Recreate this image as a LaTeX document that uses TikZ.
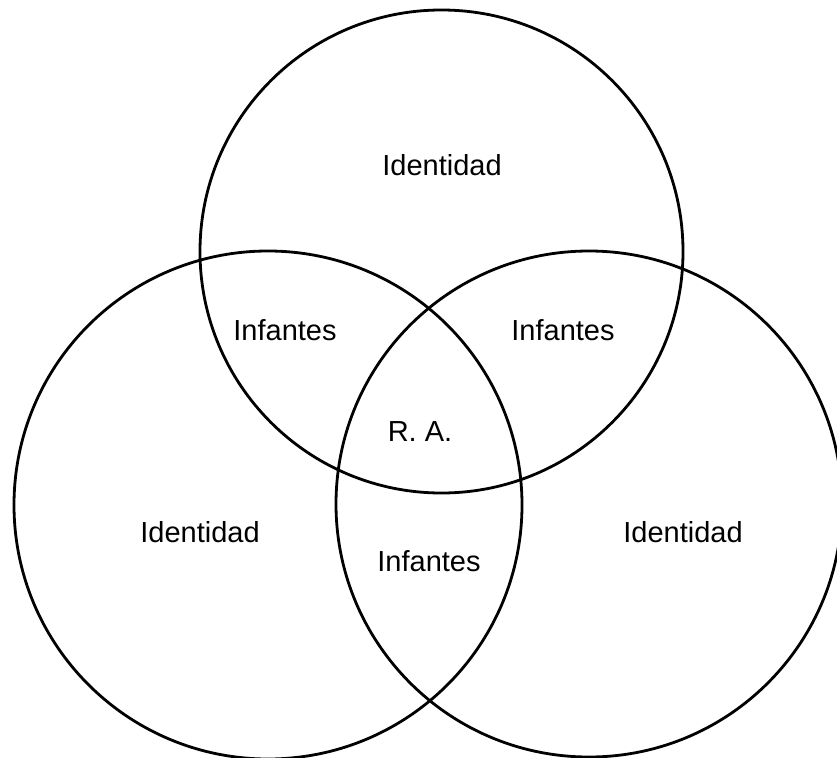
\documentclass[tikz,border=0pt]{standalone}
\usepackage{fontspec}
\setmainfont{Liberation Sans}
\begin{document}
\begin{tikzpicture}[x=1pt,y=-1pt,
  ring/.style={draw=black,line width=2.8pt,circle,inner sep=0pt,fill=none},
  lbl/.style={font=\fontsize{29}{34}\selectfont,text=black}]
\useasboundingbox (0,0) rectangle (837,757);
\clip (0,0) rectangle (837,757);
\node[ring,minimum size=483pt] (ctop) at (441.5,251.5) {};
\node[ring,minimum size=508pt] (cleft) at (268,505) {};
\node[ring,minimum size=506pt] (cright) at (589,504) {};
\node[lbl] (t1) at (442,165) {Identidad};
\node[lbl] (t2) at (200,532) {Identidad};
\node[lbl] (t3) at (683,532) {Identidad};
\node[lbl] (i1) at (285,330) {Infantes};
\node[lbl] (i2) at (563,330) {Infantes};
\node[lbl] (i3) at (429,561) {Infantes};
\node[lbl] (ra) at (420,432) {R. A.};
\end{tikzpicture}
\end{document}
